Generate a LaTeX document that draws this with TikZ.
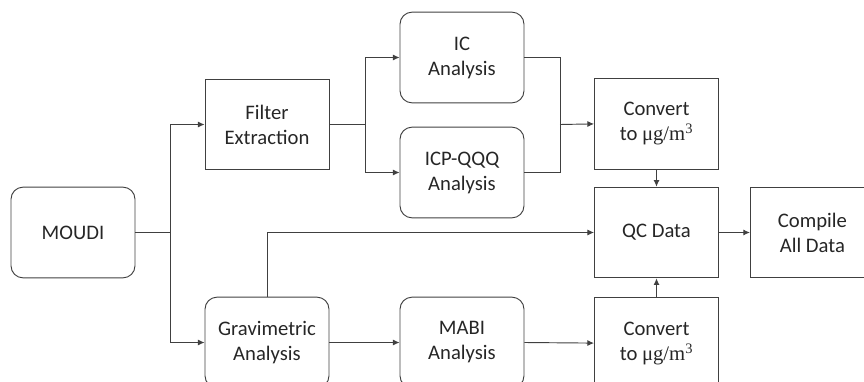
\documentclass[tikz,border=0pt]{standalone}
\usepackage{fontspec}
\setmainfont{Carlito}
\newfontfamily\unitfont{Liberation Serif}
\usetikzlibrary{arrows.meta,positioning}

\newcommand{\ugm}{{\unitfont μg/m\textsuperscript{3}}}

\begin{document}
\begin{tikzpicture}[
  x=0.75pt, y=-0.75pt,
  sq/.style={rectangle, draw=black!75, line width=0.7pt, minimum width=93pt, minimum height=68pt, align=center, text=black!85, font=\fontsize{15.5}{18.75}\selectfont},
  rnd/.style={sq, rounded corners=9pt},
  arr/.style={-{Latex[length=5pt,width=4.5pt]}, line width=0.7pt, draw=black!75},
  lin/.style={line width=0.7pt, draw=black!75}
]
\useasboundingbox (0,0) rectangle (864,382);

\node[rnd] (moudi)   at (73,232.5)    {MOUDI};
\node[sq]  (filter)  at (267,124.5)   {Filter\\Extraction};
\node[rnd] (grav)    at (267,342.5)   {Gravimetric\\Analysis};
\node[rnd] (ic)      at (462,57.5)    {IC\\Analysis};
\node[rnd] (icp)     at (462,172.5)   {ICP-QQQ\\Analysis};
\node[rnd] (mabi)    at (462,342.5)   {MABI\\Analysis};
\node[sq]  (qc)      at (656.5,232.5) {QC Data};
\node[sq, above=12.75pt of qc]  (convtop) {Convert\\to \ugm};
\node[sq, below=14.25pt of qc]  (convbot) {Convert\\to \ugm};
\node[sq, right=23.25pt of qc]  (compile) {Compile\\All Data};

% junctions
\coordinate (split)  at (170,232.5);
\coordinate (fork)   at (365,124.5);
\coordinate (merge)  at (560,124.5);

\draw[lin] (moudi.east) -- (split);
\draw[arr] (split) |- (filter.west);
\draw[arr] (split) |- (grav.west);

\draw[lin] (filter.east) -- (fork);
\draw[arr] (fork) |- (ic.west);
\draw[arr] (fork) |- (icp.west);

\draw[lin] (ic.east) -| (merge);
\draw[lin] (icp.east) -| (merge);
\draw[arr] (merge) -- (convtop.west);

\draw[arr] (convtop.south) -- (qc.north);
\draw[arr] (grav.north) |- (qc.west);
\draw[arr] (grav.east) -- (mabi.west);
\draw[arr] (mabi.east) -- (convbot.west);
\draw[arr] (convbot.north) -- (qc.south);
\draw[arr] (qc.east) -- (compile.west);
\end{tikzpicture}
\end{document}
